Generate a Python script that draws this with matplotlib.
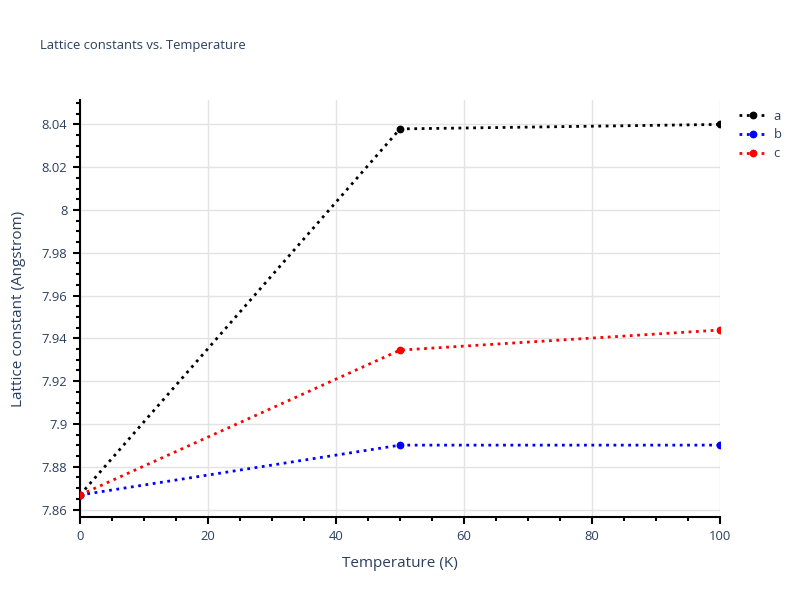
import matplotlib.pyplot as plt
from matplotlib.ticker import MultipleLocator, FuncFormatter

plt.rcParams['font.family'] = ['Open Sans', 'DejaVu Sans']

temperature = [0, 50, 100]
a_vals = [7.8668, 8.0379, 8.0400]
b_vals = [7.8668, 7.8901, 7.8901]
c_vals = [7.8668, 7.9345, 7.9439]
series = [("a", a_vals, "black"), ("b", b_vals, "blue"), ("c", c_vals, "red")]

txt = "#2a3f5f"
fig = plt.figure(figsize=(8, 6), dpi=100)
ax = fig.add_axes([0.1, 0.1383, 0.8, 0.6950])

for name, vals, col in series:
    ax.plot(temperature, vals, color=col, linestyle=":", linewidth=2,
            marker="o", markersize=4.6, label=name, zorder=3)

ax.set_xlim(0, 100)
ax.set_ylim(7.8565, 8.0514)
ax.xaxis.set_major_locator(MultipleLocator(20))
ax.xaxis.set_minor_locator(MultipleLocator(5))
ax.yaxis.set_major_locator(MultipleLocator(0.02))
ax.yaxis.set_minor_locator(MultipleLocator(0.005))
ax.yaxis.set_major_formatter(FuncFormatter(lambda v, p: "%g" % round(v, 4)))

ax.grid(True, which="major", color="#e3e3e3", linewidth=1, zorder=0)
ax.set_axisbelow(True)
for s in ["top", "right"]:
    ax.spines[s].set_visible(False)
for s in ["left", "bottom"]:
    ax.spines[s].set_color("black")
    ax.spines[s].set_linewidth(1.5)
ax.tick_params(which="major", length=5, width=1.5, color="black",
               labelcolor=txt, labelsize=9.4, pad=4)
ax.tick_params(which="minor", length=3, width=1.5, color="black")

ax.set_xlabel("Temperature (K)", fontsize=11, color=txt, labelpad=10)
ax.set_ylabel("Lattice constant (Angstrom)", fontsize=11, color=txt, labelpad=11)
fig.text(0.05, 0.924, "Lattice constants vs. Temperature", fontsize=9.4,
         color=txt, ha="left", va="center")

ax.legend(loc="upper left", bbox_to_anchor=(0.917, 0.826),
          bbox_transform=fig.transFigure, frameon=False, fontsize=9.4,
          handlelength=2.2, handletextpad=0.45, labelcolor=txt,
          borderaxespad=0, labelspacing=0.45)

fig.savefig("out.png", dpi=100)
